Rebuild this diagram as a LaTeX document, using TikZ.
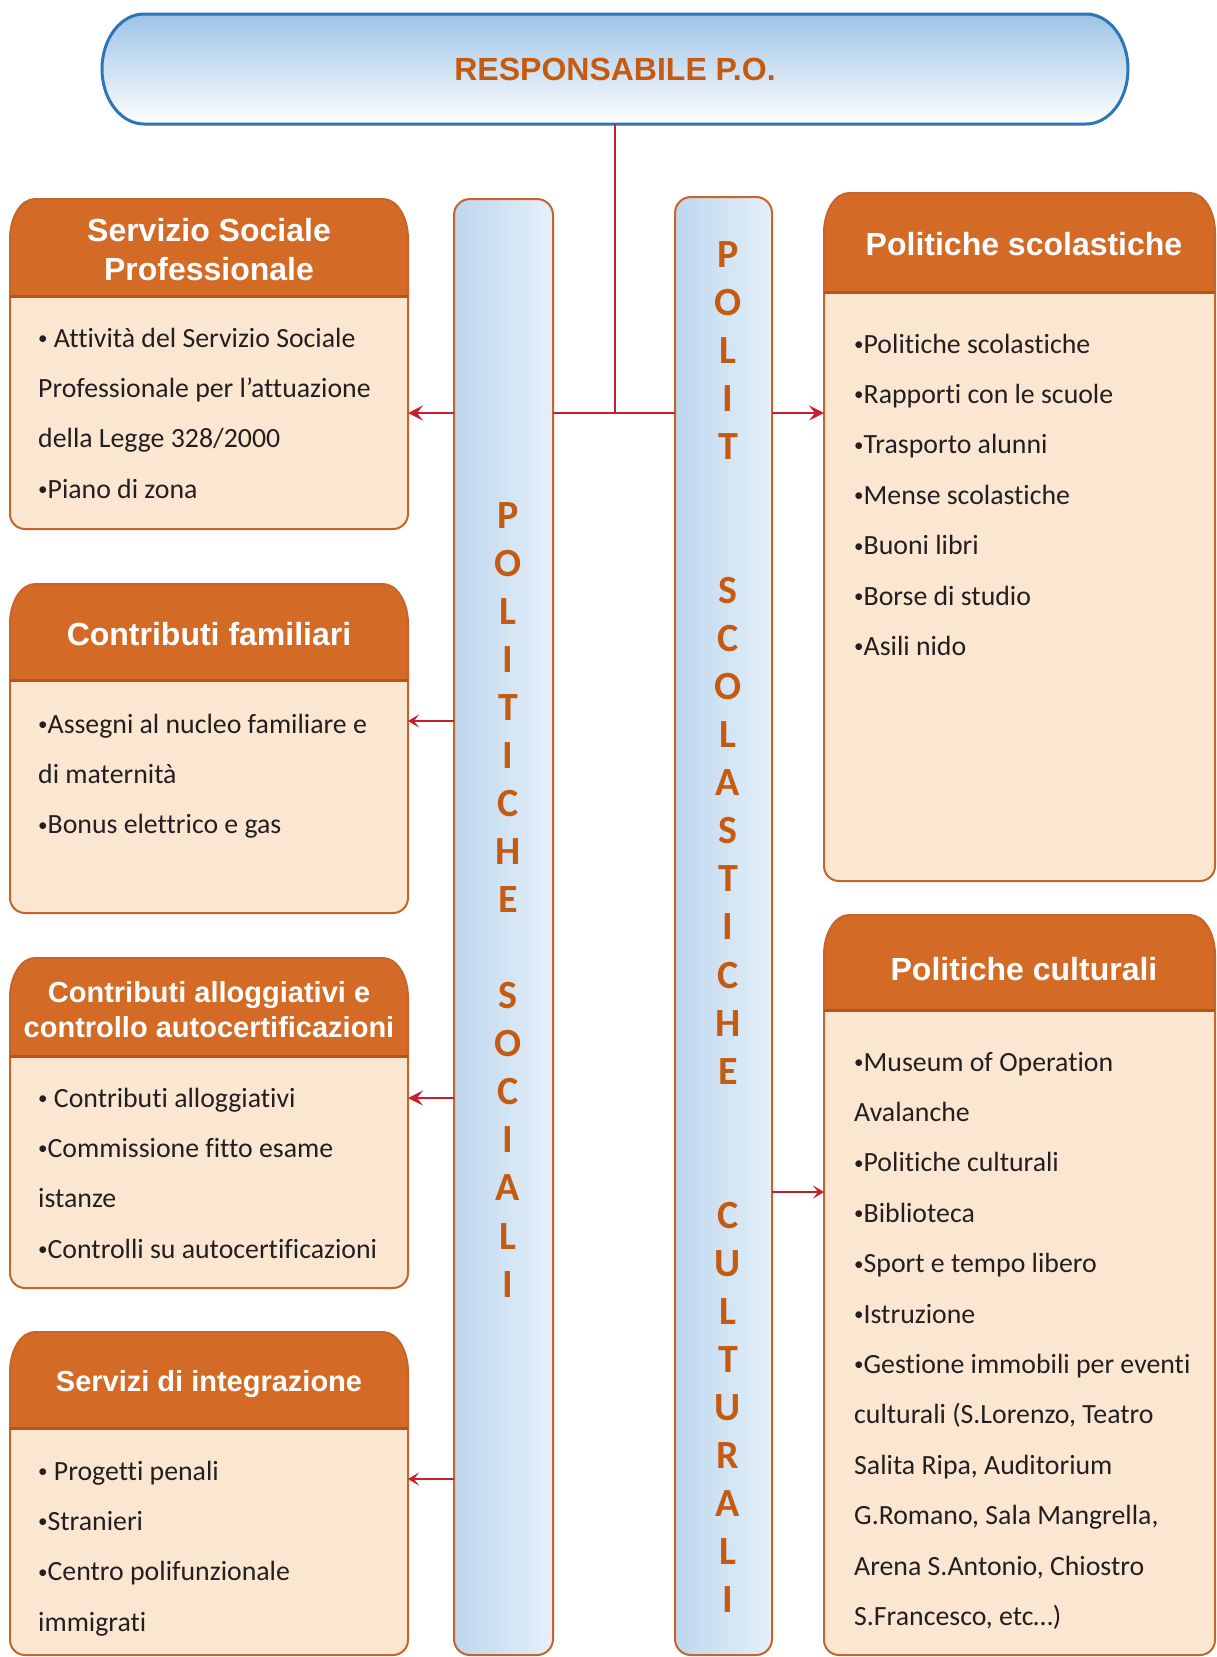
\documentclass[tikz,border=0pt]{standalone}
\usepackage{fontspec}
\setmainfont{Carlito}[Ligatures=NoCommon]
\newfontfamily\headfont{Liberation Sans}
\usetikzlibrary{arrows.meta}

\definecolor{rust}{RGB}{197,90,17}
\definecolor{hdfill}{RGB}{211,107,39}
\definecolor{bdfill}{RGB}{251,231,209}
\definecolor{edgeor}{RGB}{198,100,42}
\definecolor{sepline}{RGB}{178,86,32}
\definecolor{wirered}{RGB}{200,30,45}
\definecolor{skytop}{RGB}{157,195,230}
\definecolor{frameblue}{RGB}{46,117,182}
\definecolor{pilL}{RGB}{189,215,238}
\definecolor{pilR}{RGB}{229,239,249}
\definecolor{ink}{RGB}{35,31,32}

% small list bullet
\newcommand\bul{\raisebox{2.6pt}{\fontsize{19}{19}\selectfont •}}

% Unit box: name, x-left, y-top, x-right, y-bottom, y-of-title-separator (y grows downward)
\newcommand\orgbox[6]{%
  \fill[bdfill] (#2,-#6) -- (#2,-#5+15) arc[start angle=180,end angle=270,radius=15]
     -- (#4-15,-#5) arc[start angle=270,end angle=360,radius=15] -- (#4,-#6) -- cycle;
  \fill[hdfill] (#2,-#6) -- (#2,-#3-40) arc[start angle=180,end angle=90,x radius=25,y radius=40]
     -- (#4-25,-#3) arc[start angle=90,end angle=0,x radius=25,y radius=40] -- (#4,-#6) -- cycle;
  \draw[edgeor, line width=2pt] (#2,-#6) -- (#2,-#3-40)
     arc[start angle=180,end angle=90,x radius=25,y radius=40] -- (#4-25,-#3)
     arc[start angle=90,end angle=0,x radius=25,y radius=40] -- (#4,-#5+15)
     arc[start angle=0,end angle=-90,radius=15] -- (#2+15,-#5)
     arc[start angle=270,end angle=180,radius=15] -- cycle;
  \draw[sepline, line width=3pt] (#2,-#6) -- (#4,-#6);
  \node[inner sep=0pt, outer sep=0pt, minimum width={(#4-#2)*1pt},
        minimum height={(#5-#3)*1pt}] (#1) at ({(#2+#4)/2},{-(#3+#5)/2}) {};
}

\tikzset{
  pillar/.style={draw=edgeor, line width=2pt, left color=pilL, right color=pilR,
    rounded corners=16pt, inner sep=0pt, outer sep=0pt},
  pilletter/.style={font=\bfseries\fontsize{40}{44}\selectfont, text=rust,
    inner sep=0pt, anchor=base},
  boxtitle/.style={font=\headfont\bfseries\fontsize{32}{38}\selectfont, text=white,
    inner sep=0pt, anchor=base},
  smalltitle/.style={boxtitle, font=\headfont\bfseries\fontsize{29}{34}\selectfont},
  item/.style={font=\fontsize{27.8}{32}\selectfont, text=ink, inner sep=0pt,
    anchor=base west},
  wire/.style={draw=wirered, line width=2.5pt},
  arrthick/.style={wire, -{Stealth[length=15pt,width=15pt,inset=6pt]}},
  arrthin/.style={draw=wirered, line width=1.8pt,
    -{Stealth[length=11pt,width=13pt,inset=5pt]}},
}

\begin{document}
\begin{tikzpicture}[x=1pt,y=1pt]
\useasboundingbox (0,0) rectangle (1216,-1657);
\clip (0,0) rectangle (1216,-1657);
\fill[white] (0,0) rectangle (1216,-1657);

% the two vertical policy columns
\node[pillar, minimum width=99pt, minimum height=1456pt] (lpill) at (503.5,-927) {};
\node[pillar, minimum width=97pt, minimum height=1458pt] (rpill) at (723.5,-926) {};

\foreach \ch/\k in {P/0,O/1,L/2,I/3,T/4,I/5,C/6,H/7,E/8,S/10,O/11,C/12,I/13,A/14,L/15,I/16}
  \node[pilletter] (ll-\k) at (508,{-528-48.07*\k}) {\ch};
\foreach \ch/\k in {P/0,O/1,L/2,I/3,T/4,S/7,C/8,O/9,L/10,A/11,S/12,T/13,I/14,C/15,H/16,E/17,
                    C/20,U/21,L/22,T/23,U/24,R/25,A/26,L/27,I/28}
  \node[pilletter] (rl-\k) at (728,{-267-48.07*\k}) {\ch};

% unit boxes
\orgbox{box1}{10}{199}{408}{529}{296}
\orgbox{box2}{10}{584}{408}{913}{680}
\orgbox{box3}{10}{958}{408}{1288}{1056}
\orgbox{box4}{10}{1332}{408}{1655}{1428}
\orgbox{box5}{824}{193}{1215}{881}{292}
\orgbox{box6}{824}{915}{1215}{1655}{1010}

% head of the structure
\path[draw=frameblue, line width=3pt, top color=skytop, bottom color=white]
  (144,-14) -- (1086,-14) arc[start angle=90,end angle=-90,x radius=42,y radius=55]
  -- (144,-124) arc[start angle=270,end angle=90,x radius=42,y radius=55] -- cycle;
\node[inner sep=0pt, outer sep=0pt, minimum width=1026pt, minimum height=110pt,
      font=\headfont\bfseries\fontsize{32}{38}\selectfont, text=rust]
  (resp) at (615,-69) {RESPONSABILE P.O.};

% connectors
\coordinate (jn) at (615,-413);
\coordinate (c2) at (0,-721);
\coordinate (c3) at (0,-1098);
\coordinate (c4) at (0,-1479);
\coordinate (c6) at (0,-1192);
\draw[wire] (resp.south) -- (jn);
\draw[wire] (jn -| lpill.east) -- (jn -| rpill.west);
\draw[arrthick] (jn -| lpill.west) -- (jn -| box1.east);
\draw[arrthick] (jn -| rpill.east) -- (jn -| box5.west);
\draw[arrthin] (c2 -| lpill.west) -- (c2 -| box2.east);
\draw[arrthick] (c3 -| lpill.west) -- (c3 -| box3.east);
\draw[arrthin] (c4 -| lpill.west) -- (c4 -| box4.east);
\draw[arrthin] (c6 -| rpill.east) -- (c6 -| box6.west);

% box titles
\node[boxtitle] (t1a) at (209,-241) {Servizio Sociale};
\node[boxtitle] (t1b) at (209,-280) {Professionale};
\node[boxtitle] (t2) at (209,-645) {Contributi familiari};
\node[smalltitle] (t3a) at (209,-1002) {Contributi alloggiativi e};
\node[smalltitle] (t3b) at (209,-1037) {controllo autocertificazioni};
\node[smalltitle] (t4) at (209,-1391) {Servizi di integrazione};
\node[boxtitle] (t5) at (1024,-255) {Politiche scolastiche};
\node[boxtitle] (t6) at (1024,-980) {Politiche culturali};

% box contents
\foreach \t [count=\i from 0] in {{\bul{} Attività del Servizio Sociale},{Professionale per l’attuazione},
    {della Legge 328/2000},{\bul Piano di zona}}
  \node[item] (b1-\i) at (38,{-347-50.4*\i}) {\t};
\foreach \t [count=\i from 0] in {{\bul Assegni al nucleo familiare e},{di maternità},{\bul Bonus elettrico e gas}}
  \node[item] (b2-\i) at (38,{-733-50.4*\i}) {\t};
\foreach \t [count=\i from 0] in {{\bul{} Contributi alloggiativi},{\bul Commissione fitto esame},{istanze},
    {\bul Controlli su autocertificazioni}}
  \node[item] (b3-\i) at (38,{-1107-50.4*\i}) {\t};
\foreach \t [count=\i from 0] in {{\bul{} Progetti penali},{\bul Stranieri},{\bul Centro polifunzionale},{immigrati}}
  \node[item] (b4-\i) at (38,{-1480-50.4*\i}) {\t};
\foreach \t [count=\i from 0] in {{\bul Politiche scolastiche},{\bul Rapporti con le scuole},{\bul Trasporto alunni},
    {\bul Mense scolastiche},{\bul Buoni libri},{\bul Borse di studio},{\bul Asili nido}}
  \node[item] (b5-\i) at (854,{-353-50.4*\i}) {\t};
\foreach \t [count=\i from 0] in {{\bul Museum of Operation},{Avalanche},{\bul Politiche culturali},{\bul Biblioteca},
    {\bul Sport e tempo libero},{\bul Istruzione},{\bul Gestione immobili per eventi},
    {culturali (S.Lorenzo, Teatro},{Salita Ripa, Auditorium},{G.Romano, Sala Mangrella,},
    {Arena S.Antonio, Chiostro},{S.Francesco, etc…)}}
  \node[item] (b6-\i) at (854,{-1071-50.4*\i}) {\t};
\end{tikzpicture}
\end{document}
